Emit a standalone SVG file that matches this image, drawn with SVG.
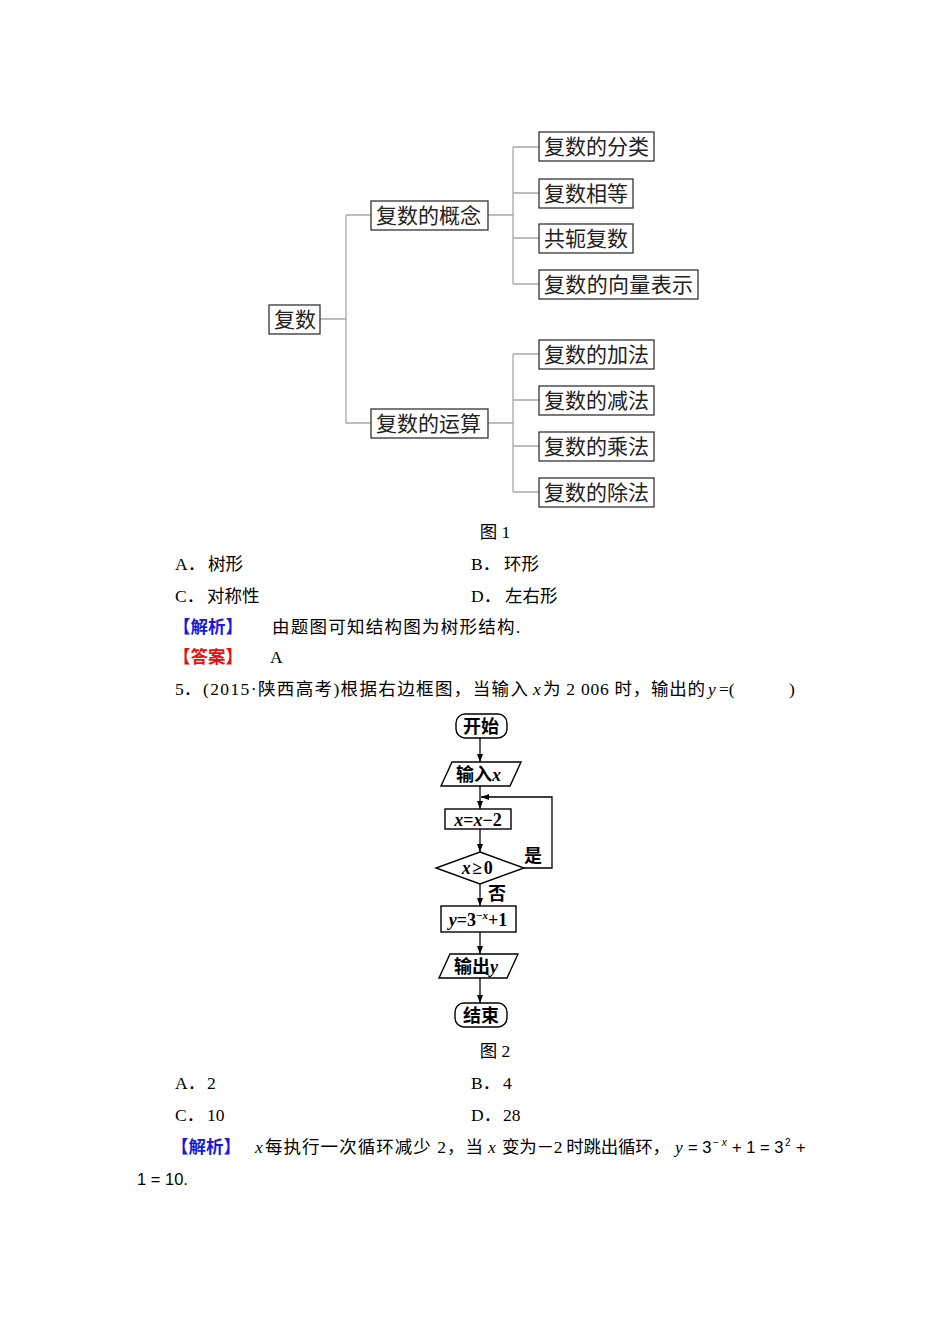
<svg xmlns="http://www.w3.org/2000/svg" width="950" height="1344" viewBox="0 0 950 1344">
<style>
.t{font-family:"Liberation Serif","Noto Sans CJK SC",serif;font-size:17.5px;fill:#000}
.s{font-family:"Liberation Sans","Noto Sans CJK SC",sans-serif;font-size:16.5px;fill:#000}
.sup{font-family:"Liberation Sans","Noto Sans CJK SC",sans-serif;font-size:10px;fill:#000}
.tn{font-family:"Liberation Serif","Noto Sans CJK SC",serif;font-size:21px;fill:#222}
.box{fill:#fff;stroke:#333;stroke-width:1.3}
.conn{stroke:#a8a8a8;stroke-width:1.3;fill:none}
.fc{fill:#fff;stroke:#000;stroke-width:1.4}
.fl{stroke:#000;stroke-width:1.3;fill:none}
.ft{font-family:"Liberation Serif","Noto Sans CJK SC",serif;font-size:18px;font-weight:bold;fill:#000}
.it{font-style:italic}
.blue{fill:#1a1ad6;font-weight:bold}
.red{fill:#e01010;font-weight:bold}
</style>
<defs>
<marker id="ah" markerWidth="8" markerHeight="6" refX="8" refY="3" orient="auto" markerUnits="userSpaceOnUse">
<path d="M0,0 L8,3 L0,6 z" fill="#000"/>
</marker>
</defs>

<g id="tree-connectors">
<path class="conn" d="M320,319 H346 M346,215 V423 M346,215 H371 M346,423 H371"/>
<path class="conn" d="M488,215 H513 M513,147 V284 M513,147 H539 M513,193 H539 M513,238 H539 M513,284 H539"/>
<path class="conn" d="M488,423 H513 M513,354 V492 M513,354 H539 M513,400 H539 M513,446 H539 M513,492 H539"/>
</g>

<g id="n-root"><rect class="box" x="269" y="305" width="51" height="29"/><text class="tn" x="274" y="327">复数</text></g>
<g id="n-concept"><rect class="box" x="371" y="201" width="117" height="29"/><text class="tn" x="376" y="223">复数的概念</text></g>
<g id="n-op"><rect class="box" x="371" y="409" width="117" height="29"/><text class="tn" x="376" y="431">复数的运算</text></g>
<g id="n-c1"><rect class="box" x="539" y="132" width="115" height="29"/><text class="tn" x="544" y="154">复数的分类</text></g>
<g id="n-c2"><rect class="box" x="539" y="179" width="94" height="29"/><text class="tn" x="544" y="201">复数相等</text></g>
<g id="n-c3"><rect class="box" x="539" y="224" width="94" height="29"/><text class="tn" x="544" y="246">共轭复数</text></g>
<g id="n-c4"><rect class="box" x="539" y="270" width="159" height="29"/><text class="tn" x="544" y="292" textLength="149" lengthAdjust="spacing">复数的向量表示</text></g>
<g id="n-o1"><rect class="box" x="539" y="340" width="115" height="29"/><text class="tn" x="544" y="362">复数的加法</text></g>
<g id="n-o2"><rect class="box" x="539" y="386" width="115" height="29"/><text class="tn" x="544" y="408">复数的减法</text></g>
<g id="n-o3"><rect class="box" x="539" y="432" width="115" height="29"/><text class="tn" x="544" y="454">复数的乘法</text></g>
<g id="n-o4"><rect class="box" x="539" y="478" width="115" height="29"/><text class="tn" x="544" y="500">复数的除法</text></g>

<text class="t" x="495" y="538" text-anchor="middle">图 1</text>
<text class="t" x="175" y="570">A．<tspan x="208">树形</tspan></text>
<text class="t" x="471" y="570">B．<tspan x="504">环形</tspan></text>
<text class="t" x="175" y="602">C．<tspan x="207">对称性</tspan></text>
<text class="t" x="471" y="602">D．<tspan x="505">左右形</tspan></text>
<text class="t blue" x="173" y="633">【解析】</text>
<text class="t" x="272" y="633" textLength="248" lengthAdjust="spacing">由题图可知结构图为树形结构.</text>
<text class="t red" x="173" y="663">【答案】</text>
<text class="t" x="270" y="663">A</text>
<text class="t" x="175" y="695">5．</text>
<text class="t" x="203" y="695" textLength="325" lengthAdjust="spacing">(2015·陕西高考)根据右边框图，当输入</text>
<text class="t it" x="533" y="695">x</text>
<text class="t" x="543" y="695" textLength="162" lengthAdjust="spacing">为 2 006 时，输出的</text>
<text class="t it" x="708" y="695">y</text>
<text class="t" x="719" y="695">=(</text>
<text class="t" x="789" y="695">)</text>

<g id="fc-connectors">
<path class="fl" marker-end="url(#ah)" d="M480,738 V762"/>
<path class="fl" marker-end="url(#ah)" d="M480,786 V809"/>
<path class="fl" marker-end="url(#ah)" d="M480,829 V852"/>
<path class="fl" marker-end="url(#ah)" d="M480,884 V906"/>
<path class="fl" marker-end="url(#ah)" d="M480,932 V954"/>
<path class="fl" marker-end="url(#ah)" d="M480,978 V1003"/>
<path class="fl" marker-end="url(#ah)" d="M524,868 H552 V797 H481"/>
</g>

<g id="f-start"><rect class="fc" x="456" y="714" width="51" height="24" rx="9"/><text class="ft" x="481" y="733" text-anchor="middle">开始</text></g>
<g id="f-input"><path class="fc" d="M452,762 H521 L510,786 H441 Z"/><text class="ft" x="456" y="781">输入<tspan class="it">x</tspan></text></g>
<g id="f-dec"><rect class="fc" x="445" y="809" width="66" height="20"/><text class="ft" x="478" y="826" text-anchor="middle"><tspan class="it">x</tspan>=<tspan class="it">x</tspan>−2</text></g>
<g id="f-cond"><path class="fc" d="M480,852 L524,868 L480,884 L436,868 Z"/><text class="ft" x="478" y="874" text-anchor="middle" letter-spacing="1.5"><tspan class="it">x</tspan>≥0</text></g>
<text class="ft" x="524" y="862" font-weight="normal">是</text>
<text class="ft" x="488" y="900" font-weight="normal">否</text>
<g id="f-calc"><rect class="fc" x="441" y="906" width="75" height="26"/><text class="ft" x="478" y="926" text-anchor="middle"><tspan class="it">y</tspan>=3<tspan font-size="11" dy="-7">−<tspan class="it">x</tspan></tspan><tspan dy="7">+1</tspan></text></g>
<g id="f-output"><path class="fc" d="M450,954 H518 L507,978 H439 Z"/><text class="ft" x="454" y="973">输出<tspan class="it">y</tspan></text></g>
<g id="f-end"><rect class="fc" x="455" y="1003" width="52" height="24" rx="9"/><text class="ft" x="481" y="1022" text-anchor="middle">结束</text></g>

<text class="t" x="495" y="1057" text-anchor="middle">图 2</text>
<text class="t" x="175" y="1089">A．<tspan x="207">2</tspan></text>
<text class="t" x="471" y="1089">B．<tspan x="503">4</tspan></text>
<text class="t" x="175" y="1121">C．<tspan x="207">10</tspan></text>
<text class="t" x="471" y="1121">D．<tspan x="503">28</tspan></text>
<text class="t blue" x="171" y="1153">【解析】</text>
<text class="t it" x="255" y="1153">x</text>
<text class="t" x="265" y="1153" textLength="218" lengthAdjust="spacing">每执行一次循环减少 2，当</text>
<text class="t it" x="488" y="1153">x</text>
<text class="t" x="502" y="1153" textLength="168" lengthAdjust="spacing">变为－2 时跳出循环，</text>
<text class="t it" x="675" y="1153">y</text>
<text class="s" x="688" y="1153">= 3</text>
<text class="sup" x="713" y="1146">− <tspan class="it">x</tspan></text>
<text class="s" x="732" y="1153">+ 1 = 3</text>
<text class="sup" x="785" y="1146">2</text>
<text class="s" x="796" y="1153">+</text>
<text class="s" x="137" y="1185">1 = 10.</text>
</svg>
